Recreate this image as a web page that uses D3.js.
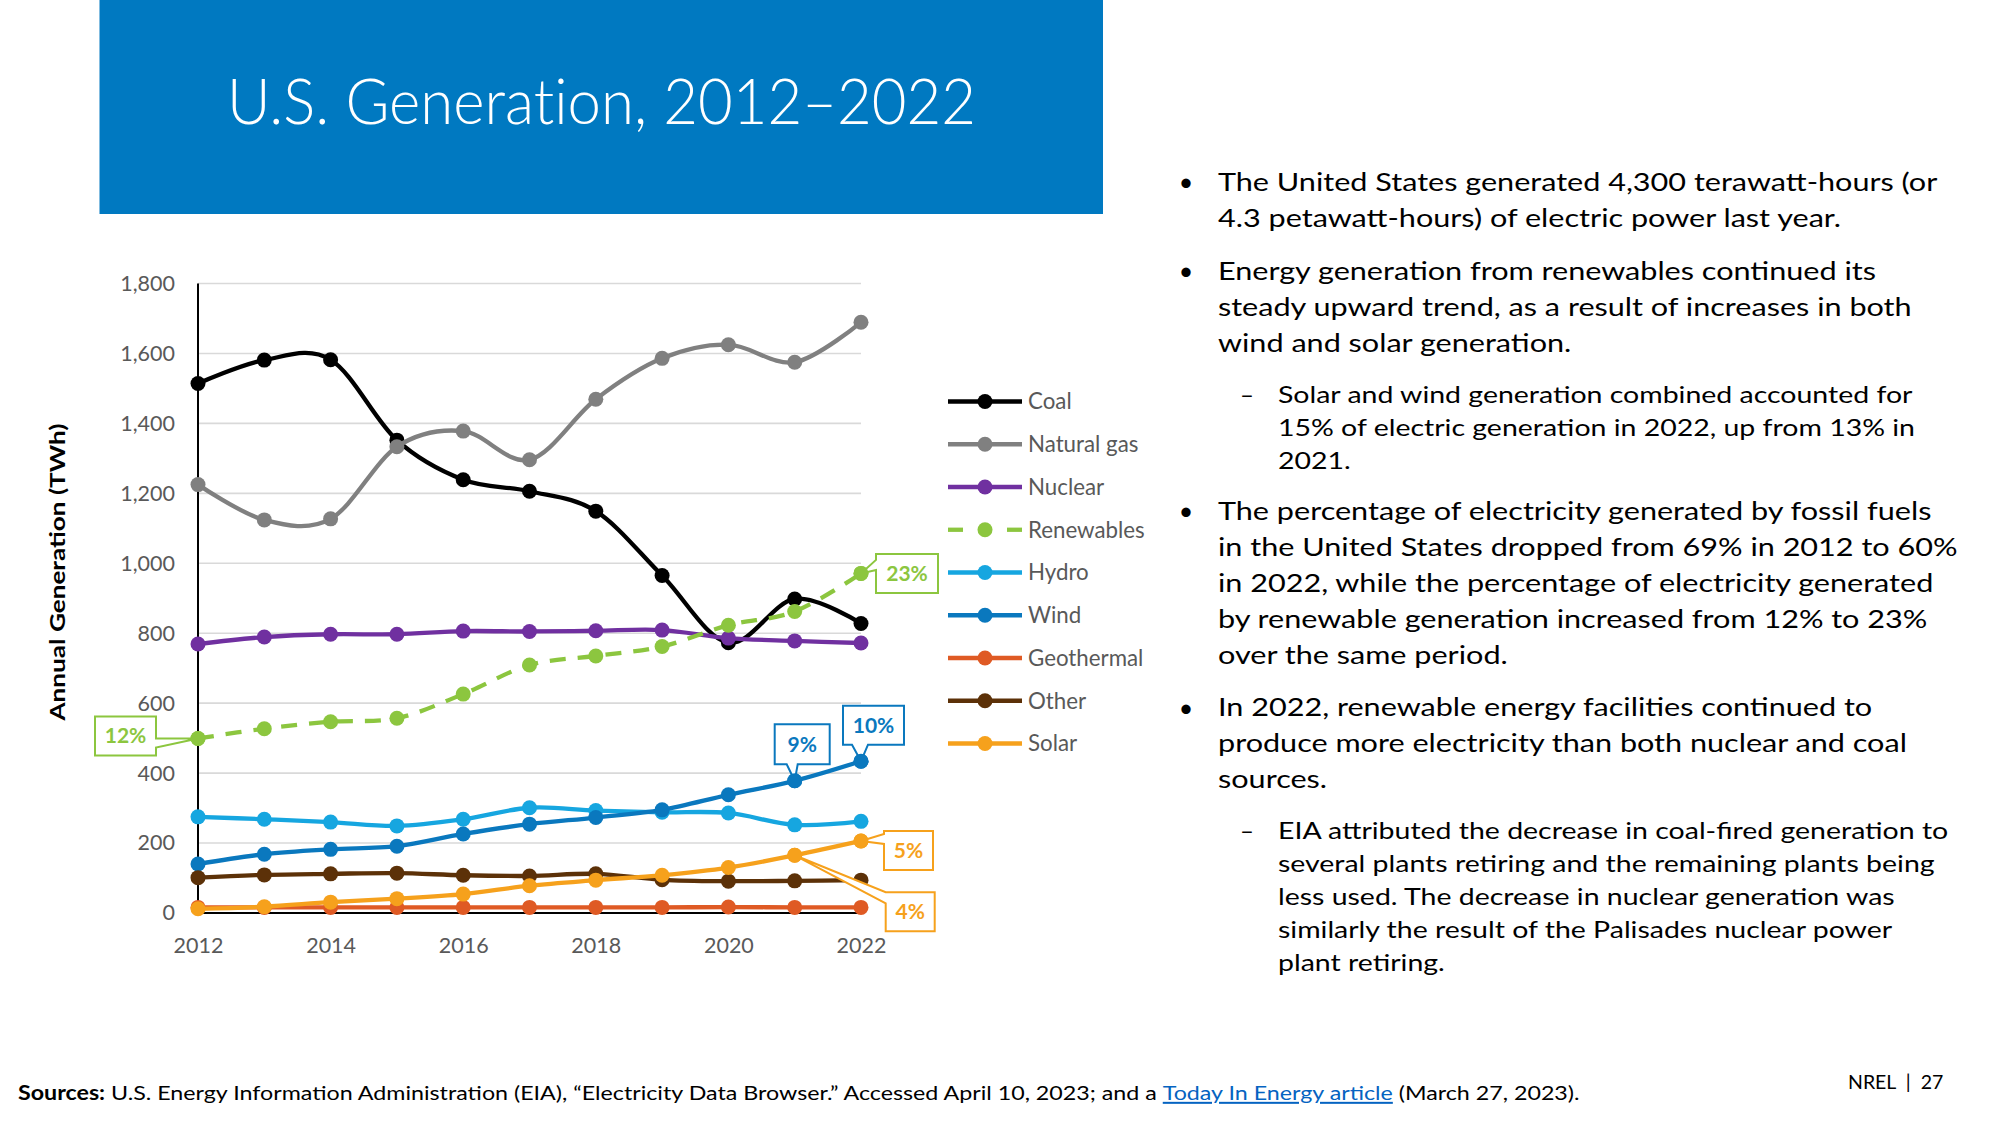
<!DOCTYPE html>
<html>
<head>
<meta charset="utf-8">
<script src="https://cdn.jsdelivr.net/npm/d3@7"></script>
<style>
  html, body { margin: 0; padding: 0; background: #ffffff; }
  svg { display: block; }
  text { font-family: Lato, "Open Sans", sans-serif; }
</style>
</head>
<body>
<div id="chart"></div>
<script>
// ---------------- DATA ----------------
const years = [2012, 2013, 2014, 2015, 2016, 2017, 2018, 2019, 2020, 2021, 2022];
const coal       = [1514, 1581, 1582, 1352, 1239, 1206, 1149, 965, 773, 898, 828];
const naturalGas = [1225, 1124, 1127, 1333, 1378, 1296, 1469, 1586, 1625, 1575, 1689];
const nuclear    = [769, 789, 797, 797, 806, 805, 807, 809, 786, 778, 772];
const renewables = [499, 527, 547, 557, 626, 709, 735, 762, 823, 862, 971];
const hydro      = [275, 268, 260, 249, 268, 301, 293, 288, 286, 252, 262];
const wind       = [140, 168, 182, 191, 226, 254, 273, 295, 338, 378, 434];
const geothermal = [16, 16, 16, 16, 16, 16, 16, 16, 17, 16, 16];
const other      = [101, 109, 112, 114, 108, 106, 112, 95, 91, 92, 94];
const solar      = [12, 18, 31, 41, 54, 78, 94, 108, 130, 165, 206];

const seriesNames = ["Coal", "Natural gas", "Nuclear", "Renewables", "Hydro", "Wind", "Geothermal", "Other", "Solar"];
const seriesValues = [coal, naturalGas, nuclear, renewables, hydro, wind, geothermal, other, solar];
const seriesColors = ["#000000", "#808080", "#7030A0", "#8CC63F", "#16A6E0", "#0A78BE", "#DF5A24", "#5C3108", "#F6A11C"];
const seriesDashed = [false, false, false, true, false, false, false, false, false];

const yTickValues = [0, 200, 400, 600, 800, 1000, 1200, 1400, 1600, 1800];
const xTickValues = [2012, 2014, 2016, 2018, 2020, 2022];

const calloutLabels = ["12%", "23%", "9%", "10%", "5%", "4%"];
const calloutSeries = ["Renewables", "Renewables", "Wind", "Wind", "Solar", "Solar"];
const calloutYears  = [2012, 2022, 2021, 2022, 2022, 2021];

const titleText = "U.S. Generation, 2012\u20132022";
const yAxisTitle = "Annual Generation (TWh)";

const bulletItems = [
  { level: 0, lines: ["The United States generated 4,300 terawatt-hours (or", "4.3 petawatt-hours) of electric power last year."] },
  { level: 0, lines: ["Energy generation from renewables continued its", "steady upward trend, as a result of increases in both", "wind and solar generation."] },
  { level: 1, lines: ["Solar and wind generation combined accounted for", "15% of electric generation in 2022, up from 13% in", "2021."] },
  { level: 0, lines: ["The percentage of electricity generated by fossil fuels", "in the United States dropped from 69% in 2012 to 60%", "in 2022, while the percentage of electricity generated", "by renewable generation increased from 12% to 23%", "over the same period."] },
  { level: 0, lines: ["In 2022, renewable energy facilities continued to", "produce more electricity than both nuclear and coal", "sources."] },
  { level: 1, lines: ["EIA attributed the decrease in coal-fired generation to", "several plants retiring and the remaining plants being", "less used. The decrease in nuclear generation was", "similarly the result of the Palisades nuclear power", "plant retiring."] }
];

const footerBold = "Sources:";
const footerPre = " U.S. Energy Information Administration (EIA), \u201CElectricity Data Browser.\u201D Accessed April 10, 2023; and a ";
const footerLink = "Today In Energy article";
const footerPost = " (March 27, 2023).";
const pageLabel = "NREL  |  27";

// ---------------- LAYOUT ----------------
const W = 2000, H = 1125;
const plot = { left: 198, right: 861, top: 283.5, bottom: 913 };

const svg = d3.select("#chart").append("svg")
  .attr("width", W).attr("height", H).attr("viewBox", `0 0 ${W} ${H}`);
svg.append("rect").attr("width", W).attr("height", H).attr("fill", "#ffffff");

// Title banner
svg.append("rect").attr("x", 99.5).attr("y", 0).attr("width", 1003.5).attr("height", 214).attr("fill", "#0079C1");
svg.append("text").attr("x", 601.5).attr("y", 124)
  .attr("text-anchor", "middle").attr("fill", "#ffffff")
  .attr("font-size", 64).attr("font-weight", 300)
  .style("font-variant-ligatures", "none")
  .attr("textLength", 749).attr("lengthAdjust", "spacingAndGlyphs")
  .text(titleText);

// Scales
const x = d3.scaleLinear().domain([2012, 2022]).range([plot.left, plot.right]);
const y = d3.scaleLinear().domain([0, 1800]).range([plot.bottom, plot.top]);

// Gridlines
svg.append("g").selectAll("line").data(yTickValues.filter(d => d > 0)).join("line")
  .attr("x1", plot.left).attr("x2", plot.right)
  .attr("y1", d => y(d)).attr("y2", d => y(d))
  .attr("stroke", "#D9D9D9").attr("stroke-width", 1.6);

// Axes
const yAxisG = svg.append("g").attr("transform", `translate(${plot.left},0)`)
  .call(d3.axisLeft(y).tickValues(yTickValues).tickFormat(d3.format(",")).tickSize(0).tickPadding(23));
yAxisG.select(".domain").remove();
yAxisG.selectAll("text").attr("font-family", "Lato, 'Open Sans', sans-serif").attr("font-size", 21.5).attr("fill", "#595959");

const xAxisG = svg.append("g").attr("transform", `translate(0,${plot.bottom})`)
  .call(d3.axisBottom(x).tickValues(xTickValues).tickFormat(d3.format("d")).tickSize(0).tickPadding(25));
xAxisG.select(".domain").remove();
xAxisG.selectAll("text").attr("font-family", "Lato, 'Open Sans', sans-serif").attr("font-size", 21.5).attr("fill", "#595959");

// axis lines
svg.append("line").attr("x1", plot.left).attr("x2", plot.right).attr("y1", y(0)).attr("y2", y(0))
  .attr("stroke", "#000").attr("stroke-width", 2);
svg.append("line").attr("x1", plot.left).attr("x2", plot.left).attr("y1", y(1800)).attr("y2", y(0))
  .attr("stroke", "#000").attr("stroke-width", 2);

// Y axis title
svg.append("text").attr("transform", "translate(65,572) rotate(-90)")
  .attr("text-anchor", "middle").attr("font-weight", 700).attr("font-size", 21).attr("fill", "#000")
  .attr("textLength", 297).attr("lengthAdjust", "spacingAndGlyphs")
  .text(yAxisTitle);

// Series
const lineGen = d3.line().x(d => x(d.year)).y(d => y(d.value)).curve(d3.curveCatmullRom.alpha(0));
const seriesData = seriesNames.map((name, i) => ({
  name, color: seriesColors[i], dashed: seriesDashed[i],
  points: years.map((yr, j) => ({ year: yr, value: seriesValues[i][j] }))
}));

const seriesG = svg.append("g");
seriesData.forEach(s => {
  const g = seriesG.append("g");
  g.append("path").attr("d", lineGen(s.points)).attr("fill", "none")
    .attr("stroke", s.color).attr("stroke-width", 4.3)
    .attr("stroke-linejoin", "round")
    .attr("stroke-dasharray", s.dashed ? "16,12" : null);
  g.selectAll("circle").data(s.points).join("circle")
    .attr("cx", d => x(d.year)).attr("cy", d => y(d.value)).attr("r", 7.5)
    .attr("fill", s.color);
});

// Callouts (box offsets relative to the anchored data point)
const calloutLayout = [
  { dx: -103, dy: -22,   w: 61, h: 39, side: "right",  a: 22, b: 31 },
  { dx: 15,   dy: -19.5, w: 62, h: 39, side: "left",   a: 6,  b: 16 },
  { dx: -20,  dy: -56.5, w: 55, h: 40, side: "bottom", a: 12, b: 23 },
  { dx: -18,  dy: -55.5, w: 61, h: 39, side: "bottom", a: 9,  b: 25 },
  { dx: 23,   dy: -10,   w: 49, h: 39, side: "left",   a: 3,  b: 13 },
  { dx: 91,   dy: 37,    w: 49, h: 39, side: "left",   a: 0,  b: 11 }
];
const calloutG = svg.append("g");
calloutLabels.forEach((label, i) => {
  const si = seriesNames.indexOf(calloutSeries[i]);
  const yi = years.indexOf(calloutYears[i]);
  const px = x(calloutYears[i]), py = y(seriesValues[si][yi]);
  const L = calloutLayout[i];
  const bx = px + L.dx, by = py + L.dy, bw = L.w, bh = L.h;
  let pts;
  if (L.side === "right") {
    pts = [[bx, by], [bx + bw, by], [bx + bw, by + L.a], [px, py], [bx + bw, by + L.b], [bx + bw, by + bh], [bx, by + bh]];
  } else if (L.side === "left") {
    pts = [[bx, by], [bx + bw, by], [bx + bw, by + bh], [bx, by + bh], [bx, by + L.b], [px, py], [bx, by + L.a]];
  } else {
    pts = [[bx, by], [bx + bw, by], [bx + bw, by + bh], [bx + L.b, by + bh], [px, py], [bx + L.a, by + bh], [bx, by + bh]];
  }
  const color = seriesColors[si];
  calloutG.append("path").attr("d", "M" + pts.map(p => p.join(",")).join("L") + "Z")
    .attr("fill", "#ffffff").attr("stroke", color).attr("stroke-width", 2).attr("stroke-linejoin", "miter");
  calloutG.append("text").attr("x", bx + bw / 2).attr("y", by + bh / 2).attr("dy", "0.35em")
    .attr("text-anchor", "middle").attr("font-weight", 700).attr("font-size", 21).attr("fill", color)
    .text(label);
  calloutG.append("circle").attr("cx", px).attr("cy", py).attr("r", 7.5).attr("fill", color);
});

// Legend
const legendY = d3.scalePoint().domain(seriesNames).range([401.5, 743.5]);
const legendG = svg.append("g");
seriesData.forEach(s => {
  const ly = legendY(s.name);
  if (s.dashed) {
    legendG.append("line").attr("x1", 948).attr("x2", 963).attr("y1", ly).attr("y2", ly).attr("stroke", s.color).attr("stroke-width", 4.3);
    legendG.append("line").attr("x1", 1007).attr("x2", 1022).attr("y1", ly).attr("y2", ly).attr("stroke", s.color).attr("stroke-width", 4.3);
  } else {
    legendG.append("line").attr("x1", 948).attr("x2", 1022).attr("y1", ly).attr("y2", ly).attr("stroke", s.color).attr("stroke-width", 4.3);
  }
  legendG.append("circle").attr("cx", 985).attr("cy", ly).attr("r", 7.5).attr("fill", s.color);
  legendG.append("text").attr("x", 1028).attr("y", ly).attr("dy", "0.35em")
    .attr("font-size", 22.3).attr("fill", "#595959").text(s.name);
});

// Right text block: Lato stands in for Calibri; each level is widened to Calibri's measure
const mainX = 1218, subX = 1278;
const bulletG = svg.append("g");
const mainG = svg.append("g");
const subG = svg.append("g");
const blockStarts = [191, 280, 403, 520, 716.5, 839];
const refNodes = { main: [], sub: [] };
bulletItems.forEach((item, i) => {
  const lh = item.level === 0 ? 36 : 33;
  const fs = item.level === 0 ? 26 : 23.5;
  const tx = item.level === 0 ? mainX : subX;
  const g = item.level === 0 ? mainG : subG;
  const by = blockStarts[i];
  if (item.level === 0) {
    bulletG.append("text").attr("x", 1186).attr("y", by).attr("text-anchor", "middle")
      .attr("font-size", 25).attr("fill", "#000").text("\u2022");
  } else {
    bulletG.append("text").attr("x", 1240).attr("y", by)
      .attr("font-size", 24).attr("fill", "#000").text("\u2013");
  }
  item.lines.forEach((ln, k) => {
    const t = g.append("text").attr("x", tx).attr("y", by + k * lh)
      .attr("font-size", fs).attr("fill", "#000").text(ln);
    if (item.level === 0 && i === 0 && k === 0) refNodes.main.push([t.node(), 723]);
    if (item.level === 0 && i === 3 && k === 1) refNodes.main.push([t.node(), 737]);
    if (item.level === 1 && i === 2 && k === 0) refNodes.sub.push([t.node(), 635]);
    if (item.level === 1 && i === 5 && k === 0) refNodes.sub.push([t.node(), 670]);
  });
});
function fitScale(g, x0, refs) {
  const k = d3.mean(refs, ([n, target]) => target / n.getComputedTextLength());
  g.attr("transform", `translate(${x0},0) scale(${k},1) translate(${-x0},0)`);
}
fitScale(mainG, mainX, refNodes.main);
fitScale(subG, subX, refNodes.sub);

// Footer
const footG = svg.append("g");
const foot = footG.append("text").attr("x", 18).attr("y", 1100).attr("font-size", 20).attr("fill", "#000");
foot.append("tspan").attr("font-weight", 700).text(footerBold);
foot.append("tspan").text(footerPre);
foot.append("tspan").attr("fill", "#0563C1").attr("text-decoration", "underline").text(footerLink);
foot.append("tspan").text(footerPost);
fitScale(footG, 18, [[foot.node(), 1562]]);

svg.append("text").attr("x", 1848).attr("y", 1089).attr("font-size", 19.5).attr("fill", "#000")
  .attr("xml:space", "preserve").style("white-space", "pre").text(pageLabel);
</script>
</body>
</html>
